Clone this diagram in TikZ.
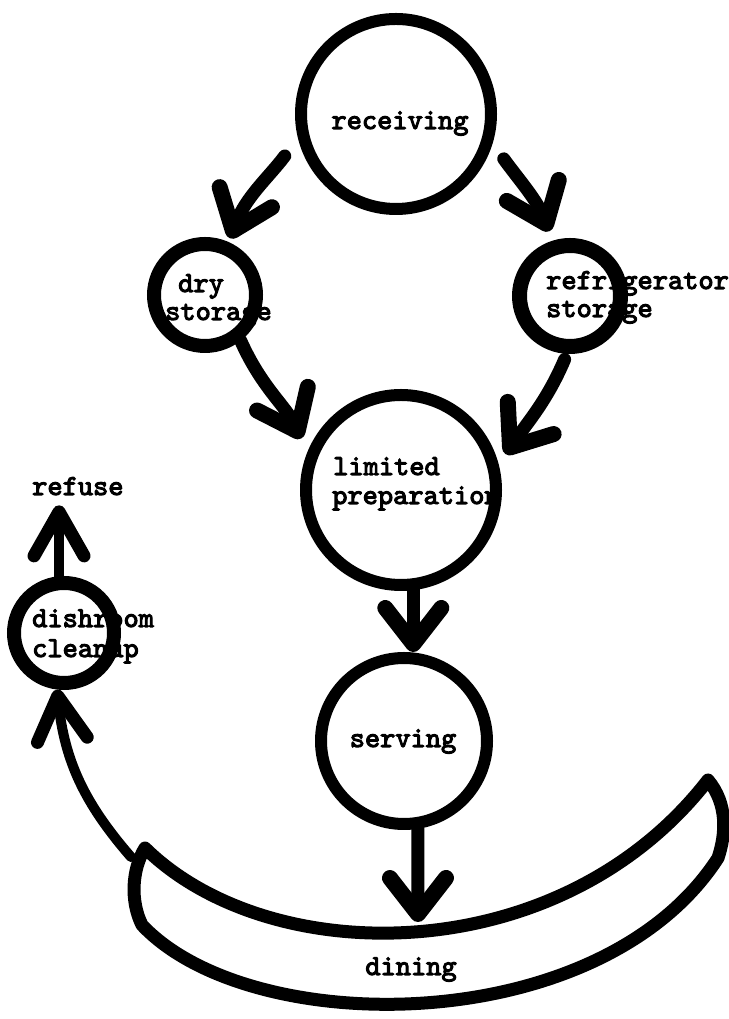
\documentclass[tikz,border=0pt]{standalone}
\usepackage{fontspec}
\newfontfamily\typewriter{lmmono10-regular.otf}[FakeBold=3.6]
\usetikzlibrary{arrows.meta}
\begin{document}
\begin{tikzpicture}[x=1pt,y=1pt,
  ring/.style={circle,draw,inner sep=0pt},
  lbl/.style={font=\fontsize{29}{32}\selectfont\typewriter, inner sep=0pt},
  flow/.style={line width=13pt, line cap=round, line join=round,
    -{Straight Barb[length=36pt,width=56pt,line width=16pt,round]}},
  thinflow/.style={line width=10pt, line cap=round, line join=round,
    -{Straight Barb[length=44pt,width=50pt,line width=13pt,round]}},
]
\useasboundingbox (0,0) rectangle (728,1019);

% labels (the rings are drawn over them)
\node[lbl,anchor=base] (trecv) at (400,890) {receiving};
\node[lbl,anchor=base west] (tdry1) at (178,727) {dry};
\node[lbl,anchor=base west] (tdry2) at (165,699) {storage};
\node[lbl,anchor=base west] (tref1) at (546,730) {refrigerator};
\node[lbl,anchor=base west] (tref2) at (546,702) {storage};
\node[lbl,anchor=base west] (tprep1) at (333,544) {limited};
\node[lbl,anchor=base west] (tprep2) at (332,515) {preparation};
\node[lbl,anchor=base] (tserv) at (403,272) {serving};
\node[lbl,anchor=base west] (tdish1) at (32,392) {dishroom};
\node[lbl,anchor=base west] (tdish2) at (32,362) {cleanup};
\node[lbl,anchor=base west] (refuse) at (32,524) {refuse};
\node[lbl,anchor=base] (tdine) at (411,44) {dining};

% stations
\node[ring,line width=12pt,minimum size=190pt] (recv) at (396,905) {};
\node[ring,line width=14pt,minimum size=102pt] (dry)  at (205,724) {};
\node[ring,line width=15pt,minimum size=101pt] (refr) at (570,723) {};
\node[ring,line width=12pt,minimum size=190pt] (prep) at (401,529) {};
\node[ring,line width=12pt,minimum size=166pt] (serv) at (404,278) {};
\node[ring,line width=14pt,minimum size=100pt] (dish) at (64,386) {};

% dining area
\draw[line width=13pt,line join=round]
  (145,171) .. controls (270,48) and (560,48) .. (708,239)
  .. controls (728,215) and (726,185) .. (718,161)
  .. controls (600,-21) and (250,-21) .. (142,94)
  .. controls (130,118) and (132,150) .. cycle;
\coordinate (dtop) at (418,97);
\coordinate (dleft) at (131,162);

% flow of goods
\draw[flow,shorten <=22pt,shorten >=4pt] (recv.194) to[out=233,in=69] (dry.66);
\draw[flow,shorten <=19pt,shorten >=10pt] (recv.343) to[out=306,in=112] (refr.107);
\draw[flow,shorten >=15pt] (dry.308) to[out=-66,in=115] (prep.158);
\draw[flow,shorten <=6pt,shorten >=12pt] (refr.267) to[out=247,in=55] (prep.15);
\draw[flow] (prep.277) -- (prep.277 |- serv.north);
\draw[flow] (serv.279) -- (dtop);
\draw[thinflow] (dleft) to[out=131,in=276] (dish.263);
\draw[thinflow,shorten >=10pt] (dish.95) -- (dish.95 |- refuse.south);
\end{tikzpicture}
\end{document}
